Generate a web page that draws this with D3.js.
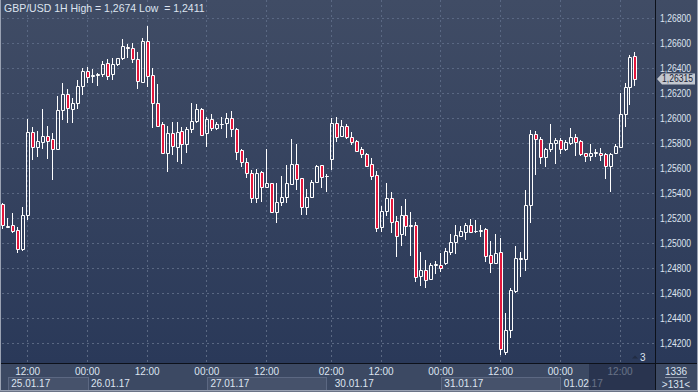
<!DOCTYPE html>
<html><head><meta charset="utf-8">
<script src="https://cdn.jsdelivr.net/npm/d3@7"></script>
<style>html,body{margin:0;padding:0;background:#2c3a58;}svg{display:block;}</style>
</head><body>
<svg id="c" width="698" height="392"></svg>
<script>
// ---- data (hourly GBP/USD candles; index 0 = 25.01.17 12:00) ----
const candleIdx = d3.range(-5, 123);
const openP = [1.25315,1.25136,1.25150,1.25110,1.24955,1.25227,1.25889,1.25775,1.25815,1.25860,1.25836,1.25759,1.26068,1.26195,1.26078,1.26121,1.26262,1.26379,1.26339,1.26347,1.26352,1.26440,1.26352,1.26437,1.26480,1.26573,1.26560,1.26472,1.26294,1.26616,1.26344,1.26121,1.25953,1.25722,1.25881,1.25775,1.25900,1.25793,1.25916,1.25980,1.26073,1.25881,1.25993,1.25921,1.25956,1.25961,1.26001,1.25913,1.25746,1.25650,1.25562,1.25362,1.25570,1.25450,1.25482,1.25256,1.25336,1.25376,1.25477,1.25634,1.25522,1.25296,1.25376,1.25495,1.25626,1.25541,1.25674,1.25961,1.25863,1.25940,1.25850,1.25821,1.25757,1.25714,1.25634,1.25549,1.25137,1.25262,1.25363,1.25182,1.25076,1.25227,1.25145,1.25148,1.24746,1.24791,1.24719,1.24831,1.24831,1.24844,1.24935,1.25017,1.25062,1.25097,1.25150,1.25102,1.25105,1.25118,1.24911,1.24844,1.24932,1.24139,1.24312,1.24626,1.24879,1.24876,1.25305,1.25874,1.25837,1.25696,1.25754,1.25802,1.25829,1.25757,1.25807,1.25855,1.25821,1.25722,1.25701,1.25725,1.25722,1.25714,1.25624,1.25722,1.25776,1.26034,1.26255,1.26499];
const highP = [1.25328,1.25203,1.25248,1.25136,1.25296,1.25993,1.25935,1.25900,1.26076,1.25940,1.25881,1.26179,1.26286,1.26233,1.26166,1.26307,1.26406,1.26414,1.26392,1.26360,1.26459,1.26472,1.26485,1.26485,1.26634,1.26592,1.26600,1.26528,1.26640,1.26740,1.26406,1.26275,1.25974,1.25940,1.25974,1.25974,1.25929,1.25929,1.26121,1.26113,1.26081,1.26014,1.26036,1.25974,1.26014,1.26041,1.26062,1.25921,1.25754,1.25682,1.25589,1.25594,1.25583,1.25754,1.25487,1.25482,1.25541,1.25629,1.25836,1.25796,1.25527,1.25437,1.25509,1.25626,1.25631,1.25554,1.26001,1.26009,1.25988,1.25956,1.25895,1.25829,1.25776,1.25722,1.25682,1.25581,1.25302,1.25483,1.25416,1.25222,1.25302,1.25358,1.25257,1.25177,1.24937,1.24871,1.24844,1.24863,1.24924,1.24969,1.25076,1.25150,1.25142,1.25163,1.25198,1.25190,1.25150,1.25124,1.25025,1.25076,1.25049,1.24450,1.24645,1.24983,1.24932,1.25430,1.25909,1.25903,1.25855,1.25768,1.25956,1.25842,1.25842,1.25829,1.25922,1.25874,1.25829,1.25728,1.25794,1.25754,1.25762,1.25728,1.25722,1.25794,1.26201,1.26281,1.26507,1.26529];
const lowP = [1.25115,1.25123,1.25083,1.24923,1.24945,1.25189,1.25668,1.25695,1.25754,1.25679,1.25509,1.25754,1.25988,1.25966,1.25961,1.26073,1.26187,1.26286,1.26286,1.26262,1.26328,1.26307,1.26307,1.26419,1.26467,1.26480,1.26440,1.26235,1.26291,1.26254,1.25921,1.25935,1.25716,1.25575,1.25708,1.25655,1.25636,1.25722,1.25881,1.25966,1.25863,1.25775,1.25903,1.25908,1.25913,1.25841,1.25855,1.25668,1.25615,1.25527,1.25322,1.25322,1.25336,1.25442,1.25243,1.25163,1.25301,1.25322,1.25469,1.25429,1.25229,1.25229,1.25362,1.25482,1.25442,1.25416,1.25589,1.25815,1.25855,1.25837,1.25789,1.25736,1.25682,1.25616,1.25509,1.25097,1.25097,1.25222,1.25089,1.24897,1.24985,1.25065,1.24905,1.24698,1.24666,1.24650,1.24711,1.24756,1.24772,1.24831,1.24911,1.24919,1.25052,1.25030,1.25084,1.25089,1.25057,1.24857,1.24764,1.24836,1.24110,1.24112,1.24251,1.24605,1.24738,1.24786,1.25163,1.25549,1.25637,1.25616,1.25736,1.25637,1.25717,1.25741,1.25789,1.25704,1.25704,1.25656,1.25664,1.25690,1.25664,1.25517,1.25411,1.25714,1.25762,1.25935,1.26108,1.26260];
const closeP = [1.25150,1.25144,1.25104,1.24961,1.25229,1.25889,1.25775,1.25820,1.25860,1.25823,1.25754,1.26068,1.26195,1.26081,1.26121,1.26262,1.26382,1.26334,1.26347,1.26355,1.26435,1.26342,1.26435,1.26480,1.26578,1.26560,1.26472,1.26296,1.26616,1.26339,1.26121,1.25940,1.25722,1.25881,1.25780,1.25895,1.25793,1.25916,1.25980,1.26073,1.25868,1.25993,1.25921,1.25953,1.25958,1.26001,1.25913,1.25735,1.25655,1.25562,1.25362,1.25562,1.25450,1.25482,1.25256,1.25336,1.25370,1.25482,1.25634,1.25514,1.25296,1.25376,1.25495,1.25621,1.25535,1.25543,1.25961,1.25855,1.25940,1.25850,1.25815,1.25744,1.25714,1.25624,1.25544,1.25129,1.25262,1.25363,1.25177,1.25065,1.25227,1.25145,1.25147,1.24738,1.24791,1.24711,1.24831,1.24836,1.24804,1.24943,1.25012,1.25070,1.25102,1.25150,1.25097,1.25105,1.25108,1.24905,1.24844,1.24924,1.24158,1.24312,1.24631,1.24884,1.24884,1.25310,1.25874,1.25834,1.25690,1.25754,1.25802,1.25829,1.25754,1.25810,1.25855,1.25815,1.25714,1.25701,1.25722,1.25730,1.25709,1.25624,1.25714,1.25781,1.26036,1.26249,1.26489,1.26315];
const priceTicks = [1.268,1.266,1.264,1.262,1.260,1.258,1.256,1.254,1.252,1.250,1.248,1.246,1.244,1.242];
const timeTickIdx = [0,12,24,36,48,61,71,83,95,107,119];
const timeTickLabels = ["12:00","00:00","12:00","00:00","12:00","02:00","12:00","00:00","12:00","00:00","12:00"];
const dateLabels = ["25.01.17","26.01.17","27.01.17","30.01.17","31.01.17","01.02.17"];
const dateStartIdx = [-4,12,36,61,83,107];
const dateEndIdx = [12,null,60,null,107,null];
const shiftBars = 3;
const barsInfo = ["1336", ">131<"];

// ---- layout ----
const svg = d3.select("#c");
const W = 698, H = 392;
const plotR = 655, plotB = 363;
const FONT = "Liberation Sans, Arial, sans-serif";
const TXT = "#dde4f0";

const x = d3.scaleBand().domain(d3.range(-5, 123 + shiftBars)).range([0.3, 652.4]).padding(0);
const xc = k => x(k) + x.bandwidth() / 2;
const y = d3.scaleLinear().domain([1.242, 1.268]).range([343.9, 18.25]);

const defs = svg.append("defs");
const g1 = defs.append("linearGradient").attr("id", "bg").attr("gradientUnits", "userSpaceOnUse")
  .attr("x1", 0).attr("y1", 0).attr("x2", 0).attr("y2", plotB);
g1.append("stop").attr("offset", 0).attr("stop-color", "#404c65");
g1.append("stop").attr("offset", 1).attr("stop-color", "#2a3959");
defs.append("clipPath").attr("id", "pc").append("rect").attr("x", 1).attr("y", 0).attr("width", plotR - 1).attr("height", plotB);

svg.append("rect").attr("width", W).attr("height", plotB).attr("fill", "url(#bg)");
svg.append("rect").attr("y", plotB).attr("width", W).attr("height", H - plotB).attr("fill", "#3c4963");

// grid
const grid = svg.append("g").attr("stroke", "#5a6883").attr("stroke-dasharray", "2,3").attr("stroke-width", 1);
priceTicks.forEach(t => {
  const yy = Math.floor(y(t)) + 0.5;
  grid.append("line").attr("x1", 2).attr("x2", plotR).attr("y1", yy).attr("y2", yy);
});
timeTickIdx.forEach(k => {
  const xx = Math.floor(xc(k)) + 0.5;
  grid.append("line").attr("x1", xx).attr("x2", xx).attr("y1", 0).attr("y2", plotB);
});

// title
const hi = d3.max(highP), lo = d3.min(lowP);
const f4 = v => d3.format(".4f")(v).replace(".", ",");
svg.append("text").attr("x", 4).attr("y", 12).attr("fill", TXT).attr("font-family", FONT)
  .attr("font-size", 10.5).style("white-space", "pre")
  .text(`GBP/USD 1H High = ${f4(hi)} Low  = ${f4(lo)}`);

// candles
const cg = svg.append("g").attr("clip-path", "url(#pc)");
candleIdx.forEach((k, i) => {
  const o = openP[i], h = highP[i], l = lowP[i], c = closeP[i];
  const px = Math.floor(xc(k));
  const top = Math.round(Math.min(y(o), y(c)));
  const bot = Math.round(Math.max(y(o), y(c)));
  const yh = Math.round(y(h)), yl = Math.round(y(l));
  const bear = c < o;
  if (yh < top) cg.append("line").attr("x1", px + 0.5).attr("x2", px + 0.5).attr("y1", yh).attr("y2", top).attr("stroke", "#fff");
  if (yl > bot) cg.append("line").attr("x1", px + 0.5).attr("x2", px + 0.5).attr("y1", bot + 1).attr("y2", yl).attr("stroke", "#fff");
  cg.append("path")
    .attr("d", `M${px - 0.5},${top + 0.5}H${px + 2.5}V${bot + 0.5}H${px - 0.5}Z`)
    .attr("fill", bear ? "#e3173c" : "none").attr("stroke", "#fff").attr("stroke-width", 1);
});

// right axis labels
const fmt5 = v => d3.format(".5f")(v).replace(".", ",");
priceTicks.forEach(t => {
  svg.append("text").attr("x", 660).attr("y", y(t) + 3.5).attr("fill", TXT)
    .attr("font-family", FONT).attr("font-size", 10)
    .attr("textLength", 31).attr("lengthAdjust", "spacingAndGlyphs").text(fmt5(t));
});

// current price marker
const lastC = closeP[closeP.length - 1];
const ly = y(lastC);
svg.append("path").attr("d", `M657,${ly}L662,${ly - 5.5}H695V${ly + 5.5}H662Z`).attr("fill", "#c4c8d0");
svg.append("text").attr("x", 662).attr("y", ly + 3.5).attr("fill", "#1b2335")
  .attr("font-family", FONT).attr("font-size", 10)
  .attr("textLength", 31).attr("lengthAdjust", "spacingAndGlyphs").text(fmt5(lastC));

// bottom axis: date boxes
dateLabels.forEach((d, i) => {
  const x0 = xc(dateStartIdx[i]);
  if (dateEndIdx[i] !== null) {
    svg.append("rect").attr("x", Math.round(x0) + 0.5).attr("y", 377.5)
      .attr("width", Math.round(xc(dateEndIdx[i]) - x0)).attr("height", 14)
      .attr("fill", "#46526b").attr("stroke", "#5c6882");
  }
  svg.append("text").attr("x", x0 + 3.5).attr("y", 387).attr("fill", TXT)
    .attr("font-family", FONT).attr("font-size", 10).text(d);
});
timeTickIdx.forEach((k, i) => {
  svg.append("text").attr("x", xc(k)).attr("y", 375).attr("text-anchor", "middle")
    .attr("fill", TXT).attr("font-family", FONT).attr("font-size", 10).text(timeTickLabels[i]);
});
// dark overlay on the right of the time axis
svg.append("rect").attr("x", Math.round(xc(113)) - 1).attr("y", plotB + 1)
  .attr("width", plotR - Math.round(xc(113)) + 1).attr("height", 27)
  .attr("fill", "#1e2944").attr("fill-opacity", 0.62);

// shift indicator
svg.append("path").attr("d", "M632,358.5L638,358.5L635,355.5Z").attr("fill", "#222c43");
svg.append("text").attr("x", 640).attr("y", 361).attr("fill", TXT).attr("font-family", FONT)
  .attr("font-size", 10).text(String(shiftBars));

// bottom-right info box
svg.append("text").attr("x", 676).attr("y", 375).attr("text-anchor", "middle").attr("fill", TXT)
  .attr("font-family", FONT).attr("font-size", 10).text(barsInfo[0]);
svg.append("line").attr("x1", 665).attr("x2", 687).attr("y1", 377.5).attr("y2", 377.5).attr("stroke", "#8e98ab");
svg.append("text").attr("x", 676).attr("y", 388).attr("text-anchor", "middle").attr("fill", TXT)
  .attr("font-family", FONT).attr("font-size", 10).text(barsInfo[1]);

// frame lines
svg.append("line").attr("x1", plotR + 0.5).attr("x2", plotR + 0.5).attr("y1", 0).attr("y2", H).attr("stroke", "#0d111a");
svg.append("line").attr("x1", 0).attr("x2", W).attr("y1", plotB + 0.5).attr("y2", plotB + 0.5).attr("stroke", "#0d111a");
svg.append("line").attr("x1", 0.5).attr("x2", 0.5).attr("y1", 0).attr("y2", H).attr("stroke", "#9aa2b3");
svg.append("line").attr("x1", W - 0.5).attr("x2", W - 0.5).attr("y1", 0).attr("y2", H).attr("stroke", "#9aa2b3");
svg.append("line").attr("x1", 0).attr("x2", W).attr("y1", H - 1.5).attr("y2", H - 1.5).attr("stroke", "#9aa2b3");
svg.append("line").attr("x1", 0).attr("x2", W).attr("y1", H - 0.5).attr("y2", H - 0.5).attr("stroke", "#6b7487");
</script>
</body></html>
